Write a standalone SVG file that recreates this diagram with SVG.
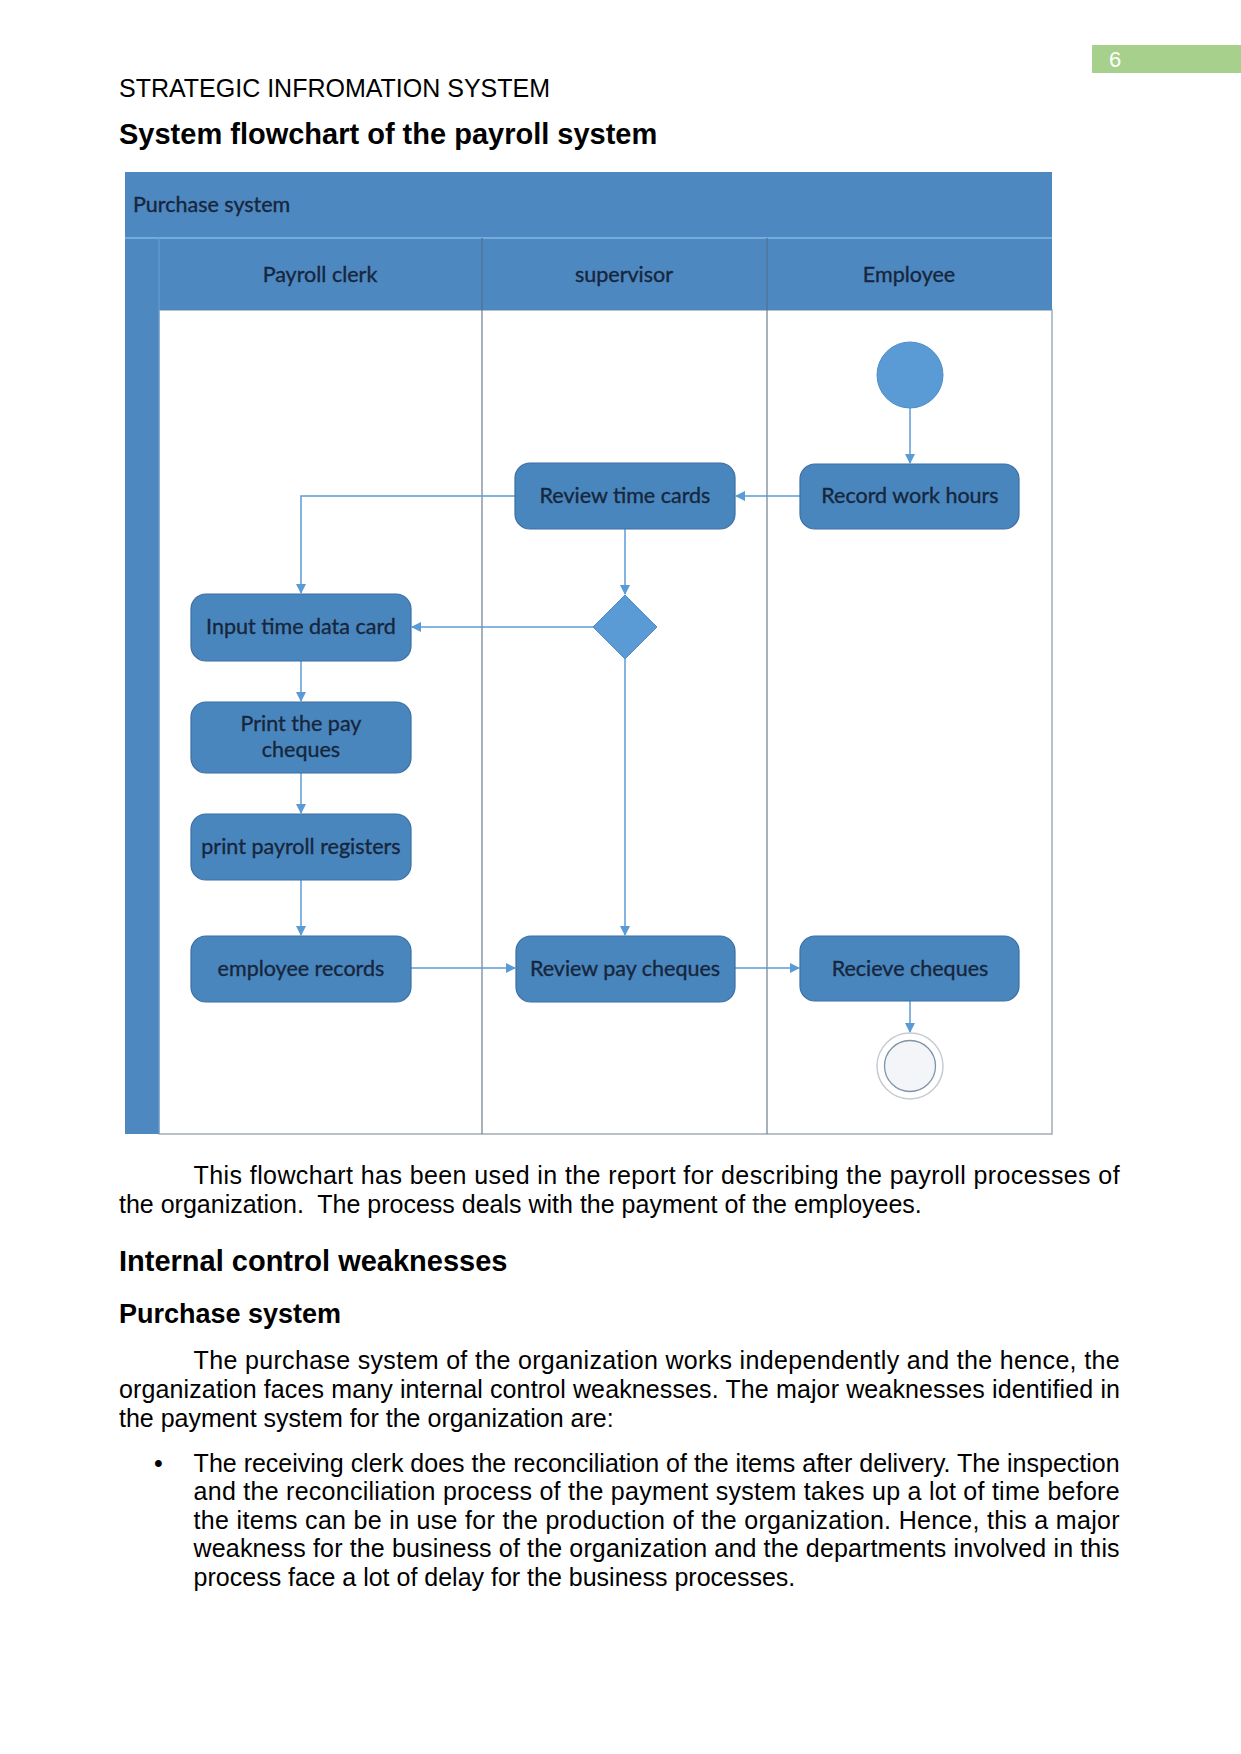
<svg xmlns="http://www.w3.org/2000/svg" width="1241" height="1754" viewBox="0 0 1241 1754">
<style>
.body{font-family:"Liberation Sans",Arial,sans-serif;font-size:25px;fill:#000}
.h1{font-family:"Liberation Sans",Arial,sans-serif;font-size:29px;font-weight:bold;fill:#000}
.h2{font-family:"Liberation Sans",Arial,sans-serif;font-size:27px;font-weight:bold;fill:#000}
.band{fill:#4e88c0}
.node rect{fill:#4a86be;stroke:#3b6ea3;stroke-width:1.2}
.lbl{font-family:Lato,"Open Sans",sans-serif;font-size:21.5px;fill:#16263d;stroke:#16263d;stroke-width:0.35;text-anchor:middle}
.hdr{font-family:Lato,"Open Sans",sans-serif;font-size:21.5px;fill:#16263d;stroke:#16263d;stroke-width:0.35}
.conn{stroke:#5b9bd5;stroke-width:1.5;fill:none;marker-end:url(#arr)}
.lane{stroke:#6f7d8e;stroke-width:1.2}
</style>
<defs>
<marker id="arr" markerWidth="10" markerHeight="10" refX="9" refY="5" orient="auto" markerUnits="userSpaceOnUse">
<path d="M0,0 L10,5 L0,10 Z" fill="#5b9bd5"/>
</marker>
</defs>
<rect width="1241" height="1754" fill="#fff"/>
<!-- page header -->
<rect x="1092" y="45" width="149" height="28" fill="#a8d08d"/>
<text x="1109" y="67" font-family="Liberation Sans, Arial, sans-serif" font-size="22" fill="#fff">6</text>
<text class="body" x="119" y="97">STRATEGIC INFROMATION SYSTEM</text>
<text class="h1" x="119" y="144">System flowchart of the payroll system</text>

<!-- swimlane frame -->
<g id="pool">
<rect x="159" y="310" width="893" height="824" fill="#fff" stroke="#a3abb5" stroke-width="1.5"/>
<rect class="band" x="125" y="172" width="927" height="66"/>
<rect class="band" x="125" y="238" width="34" height="896"/>
<rect class="band" x="159" y="238" width="893" height="72"/>
<line x1="125" y1="238" x2="1052" y2="238" stroke="#72abdc" stroke-width="2"/>
<line x1="159" y1="238" x2="159" y2="1134" stroke="#6a9fd0" stroke-width="1"/>
<text class="hdr" x="133" y="212">Purchase system</text>
<line class="lane" x1="482" y1="238" x2="482" y2="1134"/>
<line class="lane" x1="767" y1="238" x2="767" y2="1134"/>
<line x1="482" y1="238" x2="482" y2="310" stroke="#3f72a6" stroke-width="1"/>
<line x1="767" y1="238" x2="767" y2="310" stroke="#3f72a6" stroke-width="1"/>
<text class="lbl" x="320" y="282">Payroll clerk</text>
<text class="lbl" x="624" y="282">supervisor</text>
<text class="lbl" x="909" y="282">Employee</text>
</g>

<g id="connectors">
<line class="conn" x1="910" y1="408" x2="910" y2="463"/>
<line class="conn" x1="800" y1="496" x2="736" y2="496"/>
<polyline class="conn" points="515,496 301,496 301,593"/>
<line class="conn" x1="625" y1="529" x2="625" y2="594"/>
<line class="conn" x1="593" y1="627" x2="412" y2="627"/>
<line class="conn" x1="625" y1="659" x2="625" y2="935"/>
<line class="conn" x1="301" y1="661" x2="301" y2="701"/>
<line class="conn" x1="301" y1="773" x2="301" y2="813"/>
<line class="conn" x1="301" y1="880" x2="301" y2="935"/>
<line class="conn" x1="411" y1="968" x2="515" y2="968"/>
<line class="conn" x1="735" y1="968" x2="799" y2="968"/>
<line class="conn" x1="910" y1="1001" x2="910" y2="1032"/>
</g>

<g id="start"><circle cx="910" cy="375" r="33" fill="#5b9bd5" stroke="#4f8cc6" stroke-width="1"/></g>
<g id="record" class="node"><rect x="800" y="464" width="219" height="65" rx="15"/><text class="lbl" x="910" y="503">Record work hours</text></g>
<g id="review-time" class="node"><rect x="515" y="463" width="220" height="66" rx="15"/><text class="lbl" x="625" y="503">Review time cards</text></g>
<g id="decision"><polygon points="625,595 657,627 625,659 593,627" fill="#5b9bd5" stroke="#4f8cc6" stroke-width="1"/></g>
<g id="input" class="node"><rect x="191" y="594" width="220" height="67" rx="15"/><text class="lbl" x="301" y="634">Input time data card</text></g>
<g id="print-cheques" class="node"><rect x="191" y="702" width="220" height="71" rx="15"/><text class="lbl" x="301" y="731">Print the pay</text><text class="lbl" x="301" y="757">cheques</text></g>
<g id="registers" class="node"><rect x="191" y="814" width="220" height="66" rx="15"/><text class="lbl" x="301" y="854">print payroll registers</text></g>
<g id="emp-records" class="node"><rect x="191" y="936" width="220" height="66" rx="15"/><text class="lbl" x="301" y="976">employee records</text></g>
<g id="review-pay" class="node"><rect x="516" y="936" width="219" height="66" rx="15"/><text class="lbl" x="625" y="976">Review pay cheques</text></g>
<g id="receive" class="node"><rect x="800" y="936" width="219" height="65" rx="15"/><text class="lbl" x="910" y="976">Recieve cheques</text></g>
<g id="end"><circle cx="910" cy="1066" r="33" fill="#fff" stroke="#c5ccd3" stroke-width="1.5"/><circle cx="910" cy="1066" r="25.5" fill="#f3f5f8" stroke="#7f93a8" stroke-width="1.3"/></g>

<!-- body text -->
<text class="body" x="193.6" y="1184" textLength="926" lengthAdjust="spacing">This flowchart has been used in the report for describing the payroll processes of</text>
<text class="body" x="119" y="1213">the organization.&#160; The process deals with the payment of the employees.</text>
<text class="h1" x="119" y="1271">Internal control weaknesses</text>
<text class="h2" x="119" y="1323">Purchase system</text>
<text class="body" x="193.6" y="1369" textLength="926" lengthAdjust="spacing">The purchase system of the organization works independently and the hence, the</text>
<text class="body" x="119" y="1398" textLength="1001" lengthAdjust="spacing">organization faces many internal control weaknesses. The major weaknesses identified in</text>
<text class="body" x="119" y="1427">the payment system for the organization are:</text>
<text class="body" x="154" y="1472">•</text>
<text class="body" x="193.6" y="1472" textLength="926" lengthAdjust="spacing">The receiving clerk does the reconciliation of the items after delivery. The inspection</text>
<text class="body" x="193.6" y="1500" textLength="926" lengthAdjust="spacing">and the reconciliation process of the payment system takes up a lot of time before</text>
<text class="body" x="193.6" y="1529" textLength="926" lengthAdjust="spacing">the items can be in use for the production of the organization. Hence, this a major</text>
<text class="body" x="193.6" y="1557" textLength="926" lengthAdjust="spacing">weakness for the business of the organization and the departments involved in this</text>
<text class="body" x="193.6" y="1586">process face a lot of delay for the business processes.</text>
</svg>
